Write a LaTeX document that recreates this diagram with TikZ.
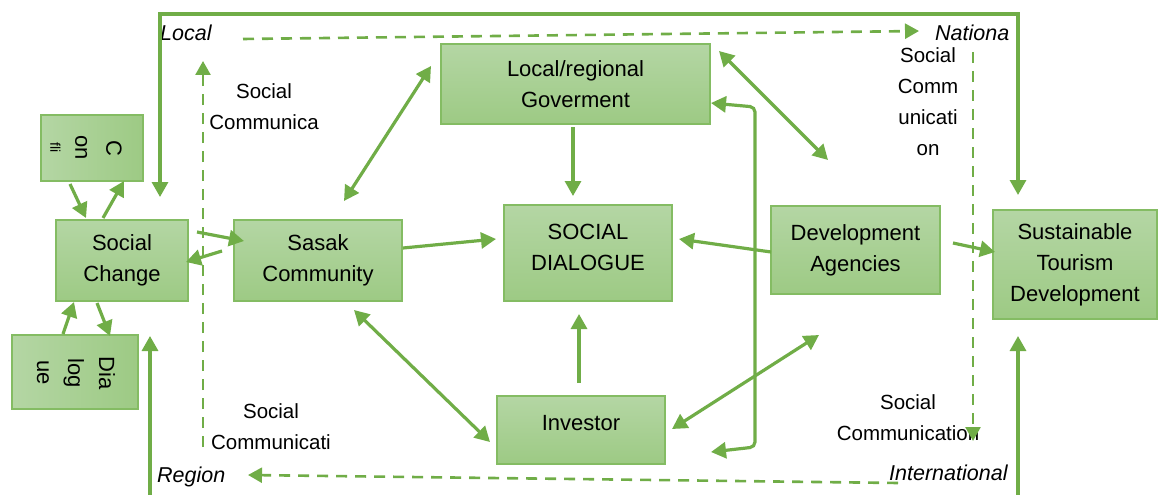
\documentclass[tikz,border=0pt]{standalone}
\usepackage{fontspec}
\setmainfont{Liberation Sans}
\usetikzlibrary{arrows.meta}
\definecolor{gline}{HTML}{70AD47}
\definecolor{gtop}{HTML}{B4D6A4}
\definecolor{gbot}{HTML}{9DCA84}
\definecolor{gborder}{HTML}{84BC63}
\tikzset{
  box/.style={draw=gborder, line width=1.5pt, top color=gtop, bottom color=gbot,
    inner sep=0pt, align=center, font=\fontsize{22}{31}\selectfont},
  sbox/.style={draw=gborder, line width=1.5pt, left color=gtop, right color=gbot,
    inner sep=0pt},
  rtext/.style={rotate=-90, align=center, font=\fontsize{22}{31}\selectfont},
  lbl/.style={align=center, font=\fontsize{20.5}{31}\selectfont, inner sep=0pt},
  itl/.style={font=\fontsize{21.5}{24}\selectfont\itshape, inner sep=0pt},
  arr/.style={draw=gline, line width=3.2pt, -{Triangle[length=15pt,width=16pt]}},
  darr/.style={draw=gline, line width=3.2pt, {Triangle[length=15pt,width=16pt]}-{Triangle[length=15pt,width=16pt]}},
  dsh/.style={draw=gline, line width=2.6pt, dash pattern=on 11pt off 8pt},
}
\begin{document}
\begin{tikzpicture}[x=1pt,y=-1pt]
\useasboundingbox (0,0) rectangle (1159,495);

% boxes
\node[sbox, minimum width=102pt, minimum height=66pt] (confi) at (92,148) {};
\node[rtext] (confit) at (86,148) {C\\on\\[-6pt]{\fontsize{14}{14}\selectfont fli}};
\node[box, minimum width=132pt, minimum height=81pt] (sc) at (122,260.5) {Social\\Change};
\node[sbox, minimum width=126pt, minimum height=74pt] (dlg) at (75,372) {};
\node[rtext] (dlgt) at (76,373) {Dia\\log\\ue};
\node[box, minimum width=168pt, minimum height=81pt] (sasak) at (318,260.5) {Sasak\\Community};
\node[box, minimum width=269pt, minimum height=80pt] (gov) at (575.5,84) {Local/regional\\Goverment};
\node[box, minimum width=168pt, minimum height=96pt, text depth=12pt] (sd) at (588,253) {SOCIAL\\DIALOGUE};
\node[box, minimum width=169pt, minimum height=88pt] (dev) at (855.5,250) {Development\\Agencies};
\node[box, minimum width=164pt, minimum height=109pt] (std) at (1075,264.5) {Sustainable\\Tourism\\Development};
\node[box, minimum width=168pt, minimum height=68pt, text depth=14pt] (inv) at (581,430) {Investor};

% labels
\node[itl, anchor=west] (local) at (160,33) {Local};
\node[itl, anchor=west] (natl) at (935,33) {Nationa};
\node[itl, anchor=west] (region) at (157,477) {Region};
\node[itl, anchor=west] (intl) at (889,473) {International};
\node[lbl] (sc1) at (264,107) {Social\\Communica};
\node[lbl] (sc2) at (271,427) {Social\\Communicati};
\node[lbl] (sc3) at (928,102) {Social\\Comm\\unicati\\on};
\node[lbl] (sc4) at (908,418) {Social\\Communication};

% coordinates
\coordinate (fa) at (160,197);
\coordinate (ftl) at (160,14);
\coordinate (ftr) at (1018,14);
\coordinate (fb) at (1018,195);
\coordinate (bl0) at (150,497);
\coordinate (bl1) at (150,336);
\coordinate (br0) at (1018,497);
\coordinate (br1) at (1018,336);

\coordinate (dt0) at (243,39);
\coordinate (dt1) at (919,31);
\coordinate (dl0) at (203,447);
\coordinate (dl1) at (203,61);
\coordinate (dr0) at (973,52);
\coordinate (dr1) at (973,441);
\coordinate (db0) at (898,483);
\coordinate (db1) at (248,475);

\coordinate (c1a) at (70,184);
\coordinate (c1b) at (86,218);
\coordinate (c2a) at (103,218);
\coordinate (c2b) at (124,181);
\coordinate (d1a) at (63,334);
\coordinate (d1b) at (74,302);
\coordinate (d2a) at (97,303);
\coordinate (d2b) at (110,336);
\coordinate (s1a) at (197,232);
\coordinate (s1b) at (244,241);
\coordinate (s2a) at (222,251);
\coordinate (s2b) at (186,262);
\coordinate (s3a) at (403,248);
\coordinate (s3b) at (496,239);
\coordinate (g1a) at (344,201);
\coordinate (g1b) at (431,66);
\coordinate (g2a) at (573,127);
\coordinate (g2b) at (573,196);
\coordinate (g3a) at (719,51);
\coordinate (g3b) at (828,160);
\coordinate (ba) at (711,103);
\coordinate (bb) at (755,107);
\coordinate (bc) at (755,447);
\coordinate (bd) at (711,452);
\coordinate (v1a) at (771,252);
\coordinate (v1b) at (679,239);
\coordinate (v2a) at (953,243);
\coordinate (v2b) at (995,252);
\coordinate (i1a) at (354,310);
\coordinate (i1b) at (490,442);
\coordinate (i2a) at (579,383);
\coordinate (i2b) at (579,314);
\coordinate (i3a) at (672,429);
\coordinate (i3b) at (819,335);

% frame
\draw[darr, line join=miter] (fa) -- (ftl) -- (ftr) -- (fb);
\draw[arr] (bl0) -- (bl1);
\draw[arr] (br0) -- (br1);

% dashed
\draw[dsh, -{Triangle[length=14pt,width=15pt]}] (dt0) -- (dt1);
\draw[dsh, -{Triangle[length=14pt,width=15pt]}] (dl0) -- (dl1);
\draw[dsh, -{Triangle[length=14pt,width=15pt]}] (dr0) -- (dr1);
\draw[dsh, -{Triangle[length=14pt,width=15pt]}] (db0) -- (db1);

% arrows
\draw[arr] (c1a) -- (c1b);
\draw[arr] (c2a) -- (c2b);
\draw[arr] (d1a) -- (d1b);
\draw[arr] (d2a) -- (d2b);
\draw[arr] (s1a) -- (s1b);
\draw[arr] (s2a) -- (s2b);
\draw[arr] (s3a) -- (s3b);
\draw[darr] (g1a) -- (g1b);
\draw[arr] (g2a) -- (g2b);
\draw[darr] (g3a) -- (g3b);
\draw[darr, rounded corners=5pt] (ba) -- (bb) -- (bc) -- (bd);
\draw[arr] (v1a) -- (v1b);
\draw[arr] (v2a) -- (v2b);
\draw[darr] (i1a) -- (i1b);
\draw[arr] (i2a) -- (i2b);
\draw[darr] (i3a) -- (i3b);
\end{tikzpicture}
\end{document}
